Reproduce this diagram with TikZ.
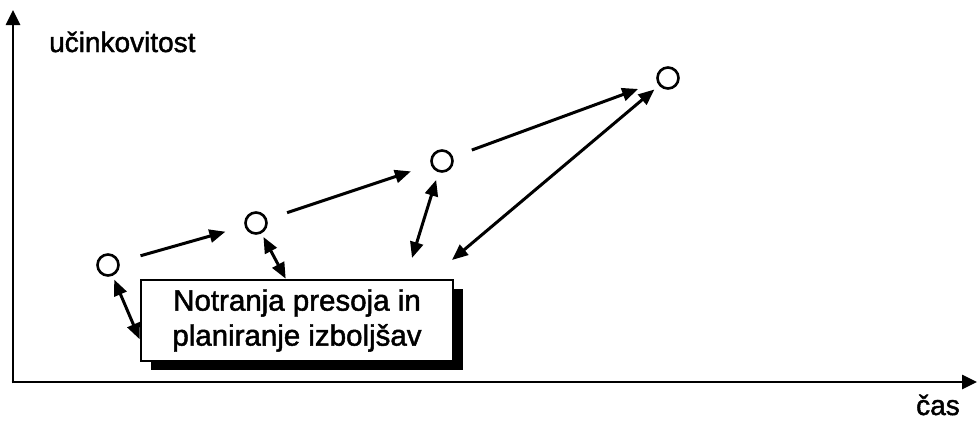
\documentclass[tikz,border=0pt]{standalone}
\usepackage{fontspec}
\setmainfont{Liberation Sans}[FakeBold=1.6]
\newfontfamily\thicksans[FakeBold=1.6]{Liberation Sans}
\usetikzlibrary{arrows.meta,shadows}
\begin{document}
\begin{tikzpicture}[x=1pt,y=-1pt,
  axis/.style={line width=2.6pt, -{Triangle[length=15pt,width=14pt]}},
  arr/.style={line width=3pt, -{Triangle[length=16pt,width=13pt]}},
  darr/.style={line width=3pt, {Triangle[length=16pt,width=13pt]}-{Triangle[length=16pt,width=13pt]}},
  pt/.style={circle, draw, line width=2.6pt, fill=white, minimum size=21pt, inner sep=0pt},
  lbl/.style={font=\thicksans\fontsize{28}{34}\selectfont, inner sep=0pt},
  box/.style={draw, line width=2.6pt, fill=white, minimum width=312pt, minimum height=81pt,
    align=center, inner sep=0pt, font=\thicksans\fontsize{29.5}{35}\selectfont,
    drop shadow={shadow xshift=10pt, shadow yshift=-9pt, opacity=1, fill=black}}
]
\useasboundingbox (0,0) rectangle (977,421);
% axes
\coordinate (o) at (13,382);
\coordinate (ytop) at (13,10);
\coordinate (xend) at (977,382);
\draw[axis] ([yshift=-1.3pt]o) -- (ytop);
\draw[axis] ([xshift=-1.3pt]o) -- (xend);
\node[lbl, anchor=base west] (ylab) at (49,52) {učinkovitost};
\node[lbl, anchor=base west] (xlab) at (916,415) {čas};
% box
\node[box] (bx) at (297,320.5) {Notranja presoja in\\planiranje izboljšav};
\coordinate (b1) at ([yshift=23pt]bx.south west);
\coordinate (b2) at ([xshift=146pt]bx.north west);
% points
\node[pt] (c1) at (108,265) {};
\node[pt] (c2) at (256,223) {};
\node[pt] (c3) at (442,161) {};
\node[pt] (c4) at (668,78) {};
\coordinate (f3) at (412,258);
\coordinate (f4) at (452,260);
% connectors
\draw[arr, shorten <=22pt, shorten >=20pt] (c1) -- (c2);
\draw[arr, shorten <=21pt, shorten >=21pt] (c2) -- (c3);
\draw[arr, shorten <=20pt, shorten >=20pt] (c3) -- (c4);
\draw[darr, shorten <=4pt] (c1) -- (b1);
\draw[darr, shorten <=4pt] (c2) -- (b2);
\draw[darr, shorten <=8pt] (c3) -- (f3);
\draw[darr, shorten <=6pt] (c4) -- (f4);
\end{tikzpicture}
\end{document}
